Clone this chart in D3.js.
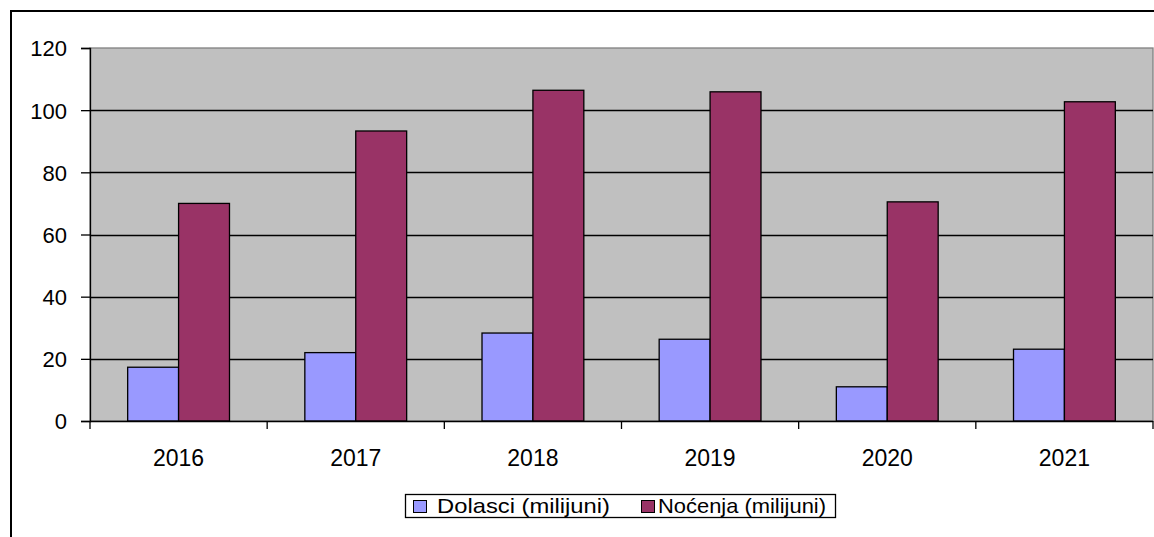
<!DOCTYPE html>
<html>
<head>
<meta charset="utf-8">
<script src="https://cdn.jsdelivr.net/npm/d3@7"></script>
<style>
  body { margin: 0; background: #fff; }
  text { font-family: Arial, "Liberation Sans", sans-serif; fill: #000; }
</style>
</head>
<body>
<svg width="1154" height="537"></svg>
<script>
var years = ["2016", "2017", "2018", "2019", "2020", "2021"];
var dolasci = [17.3, 22.0, 28.3, 26.3, 11.0, 23.1];
var nocenja = [70.0, 93.3, 106.4, 105.9, 70.5, 102.7];
var seriesNames = ["Dolasci (milijuni)", "Noćenja (milijuni)"];
var seriesColors = ["#9999FF", "#993366"];
var yTicks = [0, 20, 40, 60, 80, 100, 120];

var width = 1154;
var heigh = 537;
var plotLeft = 90, plotRight = 1153, plotTop = 48, plotBottom = 421;

var svg = d3.select("svg");

// outer chart border (right / bottom edges are cut off in the original)
svg.append("path")
    .attr("d", "M11," + heigh + "V11H" + width)
    .attr("fill", "none")
    .attr("stroke", "#000")
    .attr("stroke-width", 2);

var x0 = d3.scaleBand().domain(years).range([plotLeft, plotRight]).padding(0);
var x1 = d3.scaleBand().domain([0, 1]).range([0, x0.bandwidth()])
    .paddingInner(0).paddingOuter(0.74);
var y = d3.scaleLinear().domain([0, 120]).range([plotBottom, plotTop]);

// plot area
svg.append("rect")
    .attr("x", plotLeft).attr("y", plotTop)
    .attr("width", plotRight - plotLeft).attr("height", plotBottom - plotTop)
    .attr("fill", "#C0C0C0")
    .attr("stroke", "#808080")
    .attr("stroke-width", 1.3);

// gridlines
svg.append("g")
    .selectAll("line")
    .data(yTicks.filter(function(d){ return d > 0 && d < 120; }))
    .enter()
    .append("line")
    .attr("x1", plotLeft).attr("x2", plotRight)
    .attr("y1", function(d){ return Math.round(y(d)) + 0.5; })
    .attr("y2", function(d){ return Math.round(y(d)) + 0.5; })
    .attr("stroke", "#000")
    .attr("stroke-width", 1.3);

var data = years.map(function(yr, i) {
    return {year: yr, values: [dolasci[i], nocenja[i]]};
});

var groups = svg.append("g")
    .selectAll("g")
    .data(data)
    .enter()
    .append("g")
    .attr("transform", function(d){ return "translate(" + x0(d.year) + ",0)"; });

groups.selectAll("rect")
    .data(function(d){ return d.values; })
    .enter()
    .append("rect")
    .attr("x", function(d, i){ return x1(i); })
    .attr("y", function(d){ return y(d); })
    .attr("width", x1.bandwidth())
    .attr("height", function(d){ return y(0) - y(d); })
    .attr("fill", function(d, i){ return seriesColors[i]; })
    .attr("stroke", "#000")
    .attr("stroke-width", 1.3);

// y axis
var yAxis = svg.append("g")
    .attr("transform", "translate(" + plotLeft + ",0)")
    .call(d3.axisLeft(y).tickValues(yTicks).tickSize(9).tickPadding(14));
yAxis.select(".domain").attr("stroke", "#000").attr("stroke-width", 1.3);
yAxis.selectAll(".tick line").attr("stroke", "#000").attr("stroke-width", 1.3);
yAxis.selectAll("text")
    .style("font-size", "22px")
    .style("font-family", "Arial, 'Liberation Sans', sans-serif")
    .attr("fill", "#000")
    .attr("dy", "0.36em");

// x axis line
svg.append("line")
    .attr("x1", plotLeft).attr("x2", plotRight)
    .attr("y1", plotBottom + 0.5).attr("y2", plotBottom + 0.5)
    .attr("stroke", "#000")
    .attr("stroke-width", 1.5);

// x ticks at category boundaries
var bounds = years.map(function(d){ return x0(d); }).concat([plotRight]);
svg.append("g")
    .selectAll("line")
    .data(bounds)
    .enter()
    .append("line")
    .attr("x1", function(d){ return d; })
    .attr("x2", function(d){ return d; })
    .attr("y1", plotBottom)
    .attr("y2", plotBottom + 8)
    .attr("stroke", "#000")
    .attr("stroke-width", 1.3);

svg.append("g")
    .selectAll("text")
    .data(years)
    .enter()
    .append("text")
    .attr("x", function(d){ return x0(d) + x0.bandwidth() / 2; })
    .attr("y", 466)
    .attr("text-anchor", "middle")
    .style("font-size", "23px")
    .text(function(d){ return d; });

// legend
var legend = svg.append("g");
legend.append("rect")
    .attr("x", 405.5).attr("y", 494.5)
    .attr("width", 430).attr("height", 23)
    .attr("fill", "#fff")
    .attr("stroke", "#000")
    .attr("stroke-width", 1.3);

var legX = [413, 641];
var legTextX = [437, 658];
var legTextW = [173, 168];
seriesNames.forEach(function(name, i) {
    legend.append("rect")
        .attr("x", legX[i] + 0.5).attr("y", 500.5)
        .attr("width", 13).attr("height", 12)
        .attr("fill", seriesColors[i])
        .attr("stroke", "#000")
        .attr("stroke-width", 1);
    legend.append("text")
        .attr("x", legTextX[i])
        .attr("y", 513)
        .attr("textLength", legTextW[i])
        .attr("lengthAdjust", "spacingAndGlyphs")
        .style("font-size", "21px")
        .text(name);
});
</script>
</body>
</html>
